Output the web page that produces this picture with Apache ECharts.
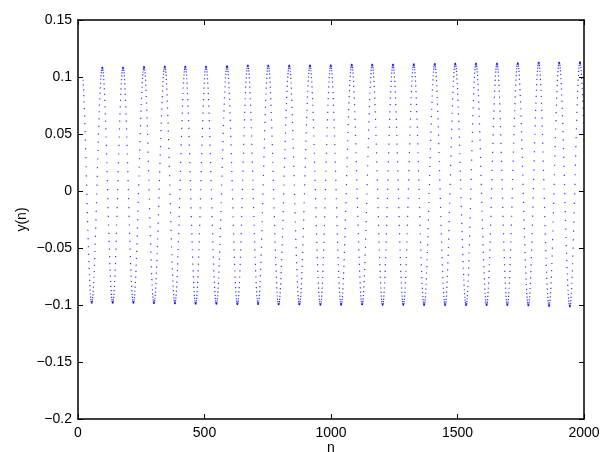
<!DOCTYPE html>
<html><head><meta charset="utf-8">
<script src="https://cdn.jsdelivr.net/npm/echarts@6/dist/echarts.min.js"></script>
<style>html,body{margin:0;padding:0;background:#fff}#c{width:602px;height:452px}</style>
</head><body><div id="c"></div>
<script>
// Extremes of the oscillation (sample index n and value)
const peakN = [14, 96, 178, 261, 343, 424, 506, 589, 671, 752, 835, 917, 999, 1082, 1163, 1245, 1327, 1410, 1491, 1573, 1656, 1738, 1821, 1902, 1984];
const peakY = [0.1084, 0.1084, 0.1084, 0.1090, 0.1093, 0.1093, 0.1093, 0.1096, 0.1102, 0.1102, 0.1102, 0.1104, 0.1104, 0.1110, 0.1110, 0.1110, 0.1113, 0.1116, 0.1119, 0.1119, 0.1119, 0.1122, 0.1128, 0.1128, 0.1131];
const troughN = [54, 137, 219, 300, 383, 465, 547, 630, 712, 793, 875, 958, 1040, 1123, 1204, 1286, 1368, 1451, 1534, 1615, 1697, 1780, 1862, 1944, 2026];
const troughY = [-0.0982, -0.0982, -0.0982, -0.0985, -0.0988, -0.0991, -0.0991, -0.0994, -0.0994, -0.0997, -0.0997, -0.0999, -0.0999, -0.0997, -0.0999, -0.0999, -0.1002, -0.1002, -0.1002, -0.1002, -0.1002, -0.1005, -0.1011, -0.1014, -0.1014];
const nFirst = 20;
const nLast = 2000;
const xTickValues = [0, 500, 1000, 1500, 2000];
const xTickLabels = ['0', '500', '1000', '1500', '2000'];
const yTickValues = [-0.2, -0.15, -0.1, -0.05, 0, 0.05, 0.1, 0.15];
const yTickLabels = ['\u22120.2', '\u22120.15', '\u22120.1', '\u22120.05', '0', '0.05', '0.1', '0.15'];

// Build the sampled signal: a half-cosine swing between each pair of read extremes
const ext = [];
for (let i = 0; i < peakN.length; i++) ext.push([peakN[i], peakY[i]]);
for (let i = 0; i < troughN.length; i++) ext.push([troughN[i], troughY[i]]);
ext.sort((a, b) => a[0] - b[0]);
const samples = [];
let k = 0;
for (let n = nFirst; n <= nLast; n++) {
  while (k < ext.length - 2 && ext[k + 1][0] <= n) k++;
  const n0 = ext[k][0], y0 = ext[k][1], n1 = ext[k + 1][0], y1 = ext[k + 1][1];
  const t = (n - n0) / (n1 - n0);
  samples.push([n, (y0 + y1) / 2 + (y0 - y1) / 2 * Math.cos(Math.PI * t)]);
}

const FONT = "'Liberation Sans', Arial, Helvetica, sans-serif";
function lookup(vals, labels) {
  return function (v) {
    for (let i = 0; i < vals.length; i++) if (Math.abs(vals[i] - v) < 1e-9) return labels[i];
    return '';
  };
}
const lineStyle = { color: '#000', width: 1.5 };
const tick = { show: true, inside: true, length: 5, lineStyle: { color: '#000', width: 1 } };
const labelStyle = { color: '#000', fontSize: 14, fontFamily: FONT };

const chart = echarts.init(document.getElementById('c'), null, { renderer: 'canvas' });
chart.setOption({
  animation: false,
  backgroundColor: '#fff',
  grid: { left: 78, right: 18, top: 20, bottom: 33, containLabel: false, outerBoundsMode: 'none' },
  xAxis: [
    { type: 'value', min: 0, max: 2000, interval: 500, position: 'bottom',
      axisLine: { show: true, onZero: false, lineStyle: lineStyle }, axisTick: tick,
      axisLabel: Object.assign({ margin: 7, formatter: lookup(xTickValues, xTickLabels) }, labelStyle),
      splitLine: { show: false },
      name: 'n', nameLocation: 'middle', nameGap: 22, nameMoveOverlap: false,
      nameTextStyle: Object.assign({}, labelStyle) },
    { type: 'value', min: 0, max: 2000, interval: 500, position: 'top',
      axisLine: { show: true, onZero: false, lineStyle: lineStyle }, axisTick: tick,
      axisLabel: { show: false }, splitLine: { show: false } }
  ],
  yAxis: [
    { type: 'value', min: -0.2, max: 0.15, interval: 0.05, position: 'left',
      axisLine: { show: true, onZero: false, lineStyle: lineStyle }, axisTick: tick,
      axisLabel: Object.assign({ margin: 6, formatter: lookup(yTickValues, yTickLabels) }, labelStyle),
      splitLine: { show: false },
      name: 'y(n)', nameLocation: 'middle', nameGap: 49, nameMoveOverlap: false,
      nameTextStyle: Object.assign({}, labelStyle) },
    { type: 'value', min: -0.2, max: 0.15, interval: 0.05, position: 'right',
      axisLine: { show: true, onZero: false, lineStyle: lineStyle }, axisTick: tick,
      axisLabel: { show: false }, splitLine: { show: false } }
  ],
  series: [{
    type: 'scatter', xAxisIndex: 0, yAxisIndex: 0,
    data: samples, symbol: 'rect', symbolSize: 1.2,
    itemStyle: { color: '#0000ff' }, silent: true, large: false
  }]
});
</script></body></html>
